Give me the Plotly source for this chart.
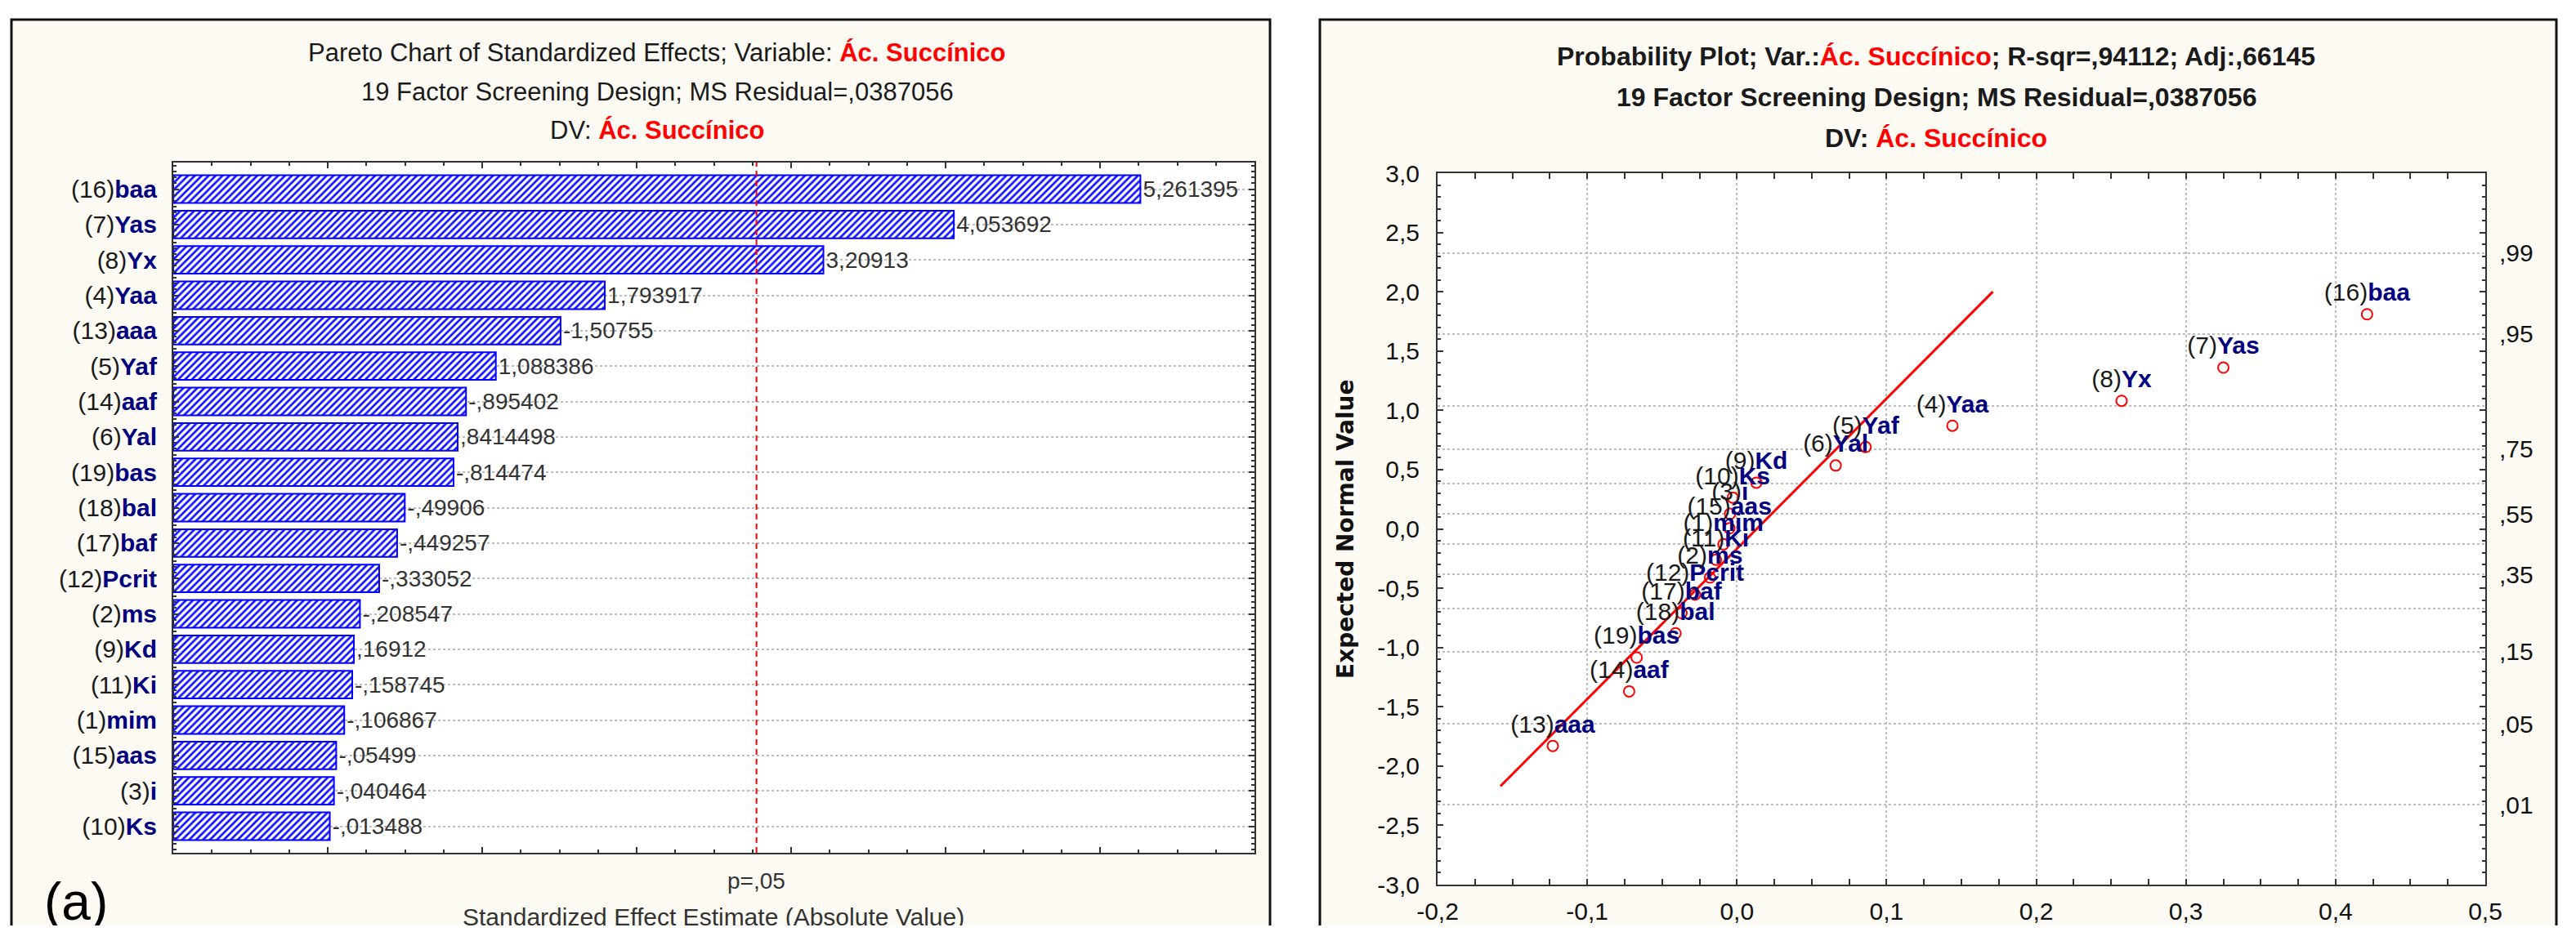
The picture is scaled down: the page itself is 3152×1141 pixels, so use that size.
import plotly.graph_objects as go
from statistics import NormalDist

# ---------------- data ----------------
factor_ids = [16, 7, 8, 4, 13, 5, 14, 6, 19, 18, 17, 12, 2, 9, 11, 1, 15, 3, 10]
factor_names = ["baa", "Yas", "Yx", "Yaa", "aaa", "Yaf", "aaf", "Yal", "bas", "bal",
                "baf", "Pcrit", "ms", "Kd", "Ki", "mim", "aas", "i", "Ks"]
std_effects = [5.261395, 4.053692, 3.20913, 1.793917, -1.50755, 1.088386, -0.895402,
               0.8414498, -0.814474, -0.49906, -0.449257, -0.333052, -0.208547, 0.16912,
               -0.158745, -0.106867, -0.05499, -0.040464, -0.013488]
p05_threshold = 2.776

# probability plot (effect estimate vs expected normal value), same factor order
effect_estimates = [0.421, 0.325, 0.257, 0.144, -0.123, 0.086, -0.072, 0.066, -0.067, -0.041,
                    -0.037, -0.028, -0.018, 0.013, -0.014, -0.009, -0.005, -0.0046, -0.0028]
expected_normal = [1.81, 1.36, 1.08, 0.87, -1.83, 0.69, -1.37, 0.535, -1.085, -0.88,
                   -0.71, -0.555, -0.41, 0.39, -0.26, -0.13, 0.005, 0.127, 0.264]
fit_x = [-0.158, 0.171]
fit_y = [-2.17, 2.00]

x2_tickvals = [-0.2, -0.1, 0.0, 0.1, 0.2, 0.3, 0.4, 0.5]
x2_ticktext = ["-0,2", "-0,1", "0,0", "0,1", "0,2", "0,3", "0,4", "0,5"]
y2_tickvals = [-3.0, -2.5, -2.0, -1.5, -1.0, -0.5, 0.0, 0.5, 1.0, 1.5, 2.0, 2.5, 3.0]
y2_ticktext = ["-3,0", "-2,5", "-2,0", "-1,5", "-1,0", "-0,5", "0,0", "0,5", "1,0",
               "1,5", "2,0", "2,5", "3,0"]
prob_levels = [0.99, 0.95, 0.85, 0.75, 0.65, 0.55, 0.45, 0.35, 0.25, 0.15, 0.05, 0.01]
prob_labels = [",99", ",95", "", ",75", "", ",55", "", ",35", "", ",15", ",05", ",01"]

# ---------------- layout constants ----------------
VW, VH = 3152, 1141
OFF = 8  # default page body margin
W, H = VW - 2 * OFF, VH - 2 * OFF
FONT = "Liberation Sans, Arial, sans-serif"
TXT = "#1a1a1a"
NAVY = "#000080"
CREAM = "#FDFAF4"
X_MIN = -1.0


def px_x(p):
    return (p - OFF) / W


def px_y(p):
    return 1 - (p - OFF) / H


def stat_fmt(v):
    s = repr(abs(v))
    if s.startswith("0."):
        s = s[1:]
    s = s.replace(".", ",")
    return ("-" if v < 0 else "") + s


def lab(i, name):
    return f"<span style='color:{TXT}'>({i})</span><b><span style='color:{NAVY}'>{name}</span></b>"


n = len(factor_names)
y_pos = list(range(n))
cat_labels = [lab(i, nm) for i, nm in zip(factor_ids, factor_names)]
bar_len = [abs(v) - X_MIN for v in std_effects]
bar_text = [stat_fmt(v) for v in std_effects]
prob_z = [NormalDist().inv_cdf(p) for p in prob_levels]

fig = go.Figure()

fig.add_trace(go.Bar(
    y=y_pos, x=bar_len, base=X_MIN, orientation="h", width=0.78,
    xaxis="x", yaxis="y",
    marker=dict(color="white", line=dict(color="#0000FF", width=2),
                pattern=dict(shape="/", fgcolor="#1010FF", bgcolor="white",
                             size=6, solidity=0.45)),
    text=bar_text, textposition="outside", constraintext="none", cliponaxis=False,
    textangle=0,
    textfont=dict(family=FONT, size=28, color="#333333"),
    hoverinfo="skip", showlegend=False,
))

# invisible trace so the right-hand probability axis is built
fig.add_trace(go.Scatter(
    x=[0.5] * len(prob_z), y=prob_z, mode="markers", xaxis="x2", yaxis="y3",
    marker=dict(opacity=0, size=1), hoverinfo="skip", showlegend=False,
))

fig.add_trace(go.Scatter(
    x=fit_x, y=fit_y, mode="lines", xaxis="x2", yaxis="y2",
    line=dict(color="#FF0000", width=3), hoverinfo="skip", showlegend=False,
))

fig.add_trace(go.Scatter(
    x=effect_estimates, y=expected_normal, mode="markers+text", xaxis="x2", yaxis="y2",
    marker=dict(symbol="circle-open", size=13, color="#FF0000", line=dict(width=2, color="#FF0000")),
    text=cat_labels, textposition="top center", cliponaxis=False,
    textfont=dict(family=FONT, size=30, color=TXT),
    hoverinfo="skip", showlegend=False,
))

axis_common = dict(showline=True, linecolor="#333333", linewidth=2, mirror="allticks",
                   ticks="inside", tickcolor="#333333", tickwidth=1.5, zeroline=False,
                   automargin=False)

grid_dot = dict(gridcolor="#BDBDBD", gridwidth=1.5, griddash="dot")

layout = dict(
    template="none",
    width=W, height=H, autosize=False,
    margin=dict(l=0, r=0, t=0, b=0, pad=0),
    paper_bgcolor="white", plot_bgcolor="white",
    font=dict(family=FONT, size=30, color=TXT),
    bargap=0.2,
    xaxis=dict(domain=[px_x(212), px_x(1535)], anchor="y", range=[X_MIN, 6.0],
               tickmode="linear", tick0=0, dtick=1, ticklen=7, showticklabels=False,
               showgrid=False,
               minor=dict(dtick=0.25, tick0=0, ticklen=4, ticks="inside",
                          tickcolor="#333333", showgrid=False),
               **axis_common),
    yaxis=dict(domain=[px_y(1044), px_y(199)], anchor="x", range=[n - 0.25, -0.75],
               tickmode="array", tickvals=y_pos, ticktext=cat_labels, ticklen=7,
               ticklabelstandoff=12, tickfont=dict(size=30),
               showgrid=True, **grid_dot,
               minor=dict(dtick=1 / 6, tick0=0, ticklen=4, ticks="inside",
                          tickcolor="#333333", showgrid=False),
               **axis_common),
    xaxis2=dict(domain=[px_x(1759), px_x(3041)], anchor="y2", range=[-0.2, 0.5],
                tickmode="array", tickvals=x2_tickvals, ticktext=x2_ticktext, ticklen=7,
                ticklabelstandoff=5, tickfont=dict(size=30, color="#111111"),
                showgrid=True, **grid_dot,
                minor=dict(dtick=0.025, tick0=0, ticklen=4, ticks="inside",
                           tickcolor="#333333", showgrid=False),
                **axis_common),
    yaxis2=dict(domain=[px_y(1083), px_y(212)], anchor="x2", range=[-3, 3],
                tickmode="array", tickvals=y2_tickvals, ticktext=y2_ticktext, ticklen=7,
                ticklabelstandoff=14, tickfont=dict(size=30, color="#111111"),
                showgrid=False,
                minor=dict(dtick=0.1, tick0=0, ticklen=4, ticks="inside",
                           tickcolor="#333333", showgrid=False),
                **axis_common),
    yaxis3=dict(overlaying="y2", side="right", anchor="x2", range=[-3, 3],
                tickmode="array", tickvals=prob_z,
                ticktext=prob_labels, ticks="", showline=False, zeroline=False,
                automargin=False,
                ticklabelstandoff=16, tickfont=dict(size=30, color="#111111"),
                showgrid=True, **grid_dot),
)
fig.update_layout(**layout)

# panel frames and white plot areas
shapes = [
    dict(type="rect", xref="paper", yref="paper", x0=px_x(14), x1=px_x(1554),
         y0=-0.1, y1=px_y(24), fillcolor=CREAM, line=dict(color="#111111", width=3), layer="below"),
    dict(type="rect", xref="paper", yref="paper", x0=px_x(1615), x1=px_x(3128),
         y0=-0.1, y1=px_y(24), fillcolor=CREAM, line=dict(color="#111111", width=3), layer="below"),
    dict(type="rect", xref="paper", yref="paper", x0=px_x(212), x1=px_x(1535),
         y0=px_y(1044), y1=px_y(199), fillcolor="white", line=dict(width=0), layer="below"),
    dict(type="rect", xref="paper", yref="paper", x0=px_x(1759), x1=px_x(3041),
         y0=px_y(1083), y1=px_y(212), fillcolor="white", line=dict(width=0), layer="below"),
    dict(type="line", xref="x", yref="y domain", x0=p05_threshold, x1=p05_threshold,
         y0=0, y1=1, line=dict(color="#FF0000", width=2, dash="7px,5px"), layer="above"),
]
fig.update_layout(shapes=shapes)

RED_B = "<b><span style='color:#FF0000'>Ác. Succínico</span></b>"
annotations = [
    dict(text="Pareto Chart of Standardized Effects; Variable: " + RED_B,
         x=px_x(804), y=px_y(65), size=31),
    dict(text="19 Factor Screening Design; MS Residual=,0387056",
         x=px_x(804), y=px_y(112), size=31),
    dict(text="DV: " + RED_B, x=px_x(804), y=px_y(159), size=31),
    dict(text="<b>Probability Plot; Var.:<span style='color:#FF0000'>Ác. Succínico</span>; R-sqr=,94112; Adj:,66145</b>",
         x=px_x(2369), y=px_y(69), size=32),
    dict(text="<b>19 Factor Screening Design; MS Residual=,0387056</b>",
         x=px_x(2369), y=px_y(119), size=32),
    dict(text="<b>DV: <span style='color:#FF0000'>Ác. Succínico</span></b>",
         x=px_x(2369), y=px_y(169), size=32),
]
ann_list = []
for a in annotations:
    ann_list.append(dict(text=a["text"], x=a["x"], y=a["y"], xref="paper", yref="paper",
                         xanchor="center", yanchor="middle", showarrow=False,
                         font=dict(family=FONT, size=a["size"], color=TXT)))

ann_list += [
    dict(text="(a)", x=px_x(93), y=px_y(1104), xref="paper", yref="paper",
         xanchor="center", yanchor="middle", showarrow=False,
         font=dict(family=FONT, size=64, color="#000000")),
    dict(text="p=,05", x=p05_threshold, y=px_y(1078), xref="x", yref="paper",
         xanchor="center", yanchor="middle", showarrow=False,
         font=dict(family=FONT, size=28, color="#333333")),
    dict(text="Standardized Effect Estimate (Absolute Value)", x=px_x(873), y=px_y(1122),
         xref="paper", yref="paper", xanchor="center", yanchor="middle", showarrow=False,
         font=dict(family=FONT, size=30, color="#333333")),
    dict(text="<b>Expected Normal Value</b>", x=px_x(1646), y=px_y(648), xref="paper",
         yref="paper", xanchor="center", yanchor="middle", showarrow=False, textangle=-90,
         font=dict(family="DejaVu Sans, sans-serif", size=28, color="#111111")),
]
fig.update_layout(annotations=ann_list)

fig.write_html("out.html")
